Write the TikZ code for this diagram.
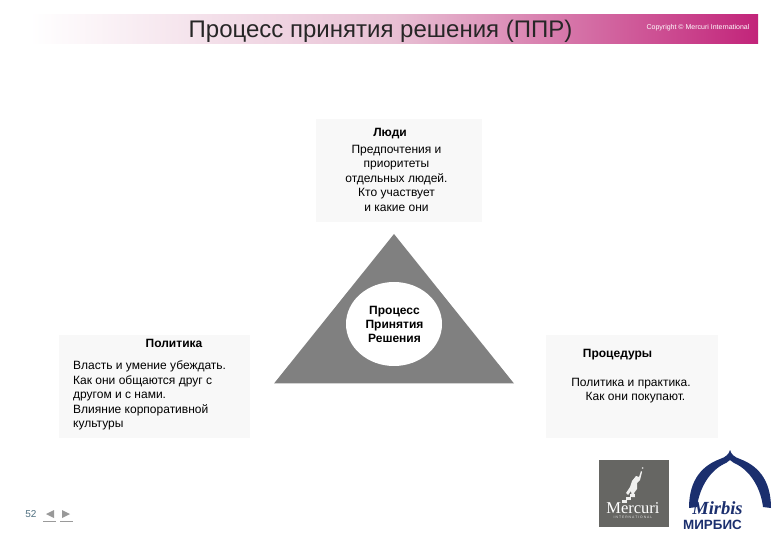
\documentclass[tikz,border=0pt]{standalone}
\usepackage{fontspec}
\setmainfont{Liberation Sans}
\newfontfamily\serifcyr{Liberation Serif}
\usepackage{tikz}
\usetikzlibrary{positioning,calc}
\definecolor{bandpink}{HTML}{C2247A}
\definecolor{bandmid}{HTML}{E8C0D4}
\definecolor{boxgray}{HTML}{F8F8F8}
\definecolor{triagray}{HTML}{808080}
\definecolor{logogray}{HTML}{666663}
\definecolor{mirbisblue}{HTML}{1B2F6E}
\definecolor{pagegray}{HTML}{4F6F7F}
\tikzset{
    infobox/.style={fill=boxgray,inner sep=0pt,anchor=north west},
    headtext/.style={font=\fontsize{12}{14.3}\selectfont\bfseries,inner sep=0pt},
    bodytext/.style={font=\fontsize{12}{14.5}\selectfont,inner sep=0pt},
    navtip/.style={fill=triagray!80,inner sep=0pt},
}
\begin{document}
\begin{tikzpicture}[x=1pt,y=-1pt]
    \useasboundingbox (0,0) rectangle (780,540);
    % header band
    \shade[left color=white,right color=bandpink,middle color=bandmid,shading angle=90] (30,15) rectangle (758,44);
    \node[inner sep=0pt,text=black!85,font=\fontsize{24}{28}\selectfont] (title) at (380.5,31) {Процесс принятия решения (ППР)};
    \node[inner sep=0pt,text=white,font=\fontsize{7}{8}\selectfont] (copy) at (698,27.5) {Copyright © Mercuri International};
    % three boxes
    \node[infobox,minimum width=166pt,minimum height=103pt] (peoplebox) at (316,119) {};
    \node[infobox,minimum width=191pt,minimum height=103pt] (policybox) at (59,335) {};
    \node[infobox,minimum width=172pt,minimum height=103pt] (procbox) at (546,335) {};
    \node[headtext] (people) at (390,133.5) {Люди};
    \node[bodytext,align=center,anchor=north] (peoplebody) at (396.5,145) {Предпочтения и\\приоритеты\\отдельных людей.\\Кто участвует\\и какие они};
    \node[headtext] (policy) at (174,343) {Политика};
    \node[bodytext,align=left,anchor=north west] (policybody) at (73,360.5) {Власть и умение убеждать.\\Как они общаются друг  с\\другом и с нами.\\Влияние корпоративной\\культуры};
    \node[headtext] (proc) at (617.5,354.5) {Процедуры};
    \node[bodytext,align=center,anchor=north] (procbody) at (631,378) {Политика и практика.\\\hspace*{9pt}Как они покупают.};
    % triangle
    \coordinate (apex) at (394,234);
    \coordinate (baseleft) at (274,383.5);
    \coordinate (baseright) at (514,383.5);
    \fill[triagray] (apex) -- (baseleft) -- (baseright) -- cycle;
    \fill[white] (394,324) ellipse (48 and 42);
    \node[headtext,align=center] (center) at (394.5,324.5) {Процесс\\Принятия\\Решения};
    % page number and arrows
    \node[inner sep=0pt,text=pagegray,font=\fontsize{10}{11}\selectfont] (page) at (31,514) {52};
    \fill[navtip] (46,514) -- (54,510) -- (54,518) -- cycle;
    \fill[navtip] (70,514) -- (62,510) -- (62,518) -- cycle;
    \draw[triagray!80] (43,521) -- (56,521);
    \draw[triagray!80] (60,521) -- (73,521);
    % mercuri logo
    \node[infobox,fill=logogray,minimum width=70pt,minimum height=67pt] (mercbox) at (599,460) {};
    \fill[white!90!logogray] (636,476) -- (639,477) -- (641,471) -- (642,472) -- (640,480) -- (637,483) -- (637,489) -- (634,493) -- (635,497) -- (632,497) -- (631,491) -- (628,495) -- (626,493) -- (630,487) -- (632,481) -- cycle;
    \foreach \x/\y in {622/500,626/497,630/494} {
        \fill[white!90!logogray] (\x,\y) rectangle ++(5,2.5);
    }
    \fill[white!70!logogray] (642.5,468) circle (1);
    \node[inner sep=0pt,text=white,font=\serifcyr\fontsize{16.5}{17}\selectfont] (merc) at (633,508) {Mercuri};
    \node[inner sep=0pt,text=white!80!logogray,font=\fontsize{3.4}{4}\selectfont] (mercsub) [below=2.5pt of merc] {I N T E R N A T I O N A L};
    % mirbis logo
    \foreach \s in {-1,1} {
        \fill[mirbisblue,shift={(730,0)},xscale=\s] (0,450) .. controls (-1,454) and (-4,457) .. (-10,459) .. controls (-26,465) and (-41,478) .. (-41,508) -- (-33,507) .. controls (-31,490) and (-22,473) .. (-8,465) .. controls (-4,463) and (-2,462) .. (0,460) -- cycle;
    }
    \node[inner sep=0pt,text=mirbisblue,font=\serifcyr\fontsize{18.5}{18.5}\selectfont\bfseries\itshape] (mirbis) at (717.5,508) {Mirbis};
    \node[inner sep=0pt,text=mirbisblue,font=\fontsize{13.4}{14}\selectfont\bfseries] (mirbisru) at (712.5,524.5) {МИРБИС};
\end{tikzpicture}
\end{document}
